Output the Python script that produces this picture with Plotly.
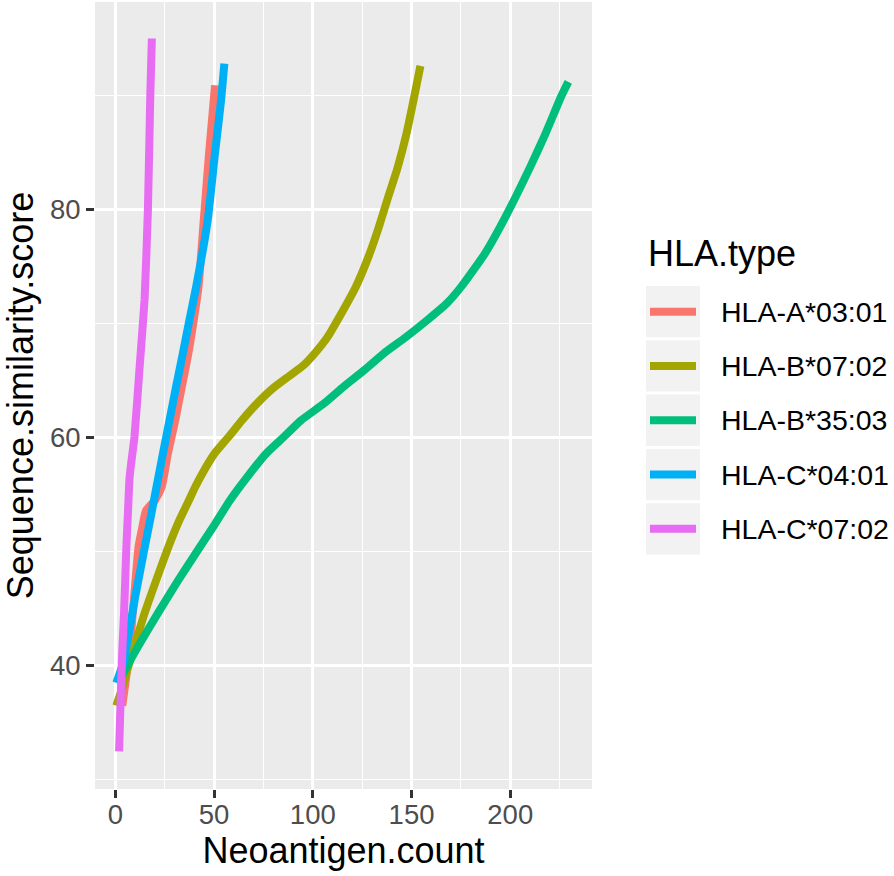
import plotly.graph_objects as go

# ---- data ----
hla_types = ["HLA-A*03:01", "HLA-B*07:02", "HLA-B*35:03", "HLA-C*04:01", "HLA-C*07:02"]
colors = ["#F8766D", "#A3A500", "#00BF7D", "#00B0F6", "#E76BF3"]

a0301_x = [3.5, 5.5, 7.5, 9.5, 11.8, 13.5, 15.5, 20, 23.5, 26.6, 30.3, 33.7, 37, 39.7, 42.1, 44.8, 47.5, 50.5]
a0301_y = [36.5, 39, 42, 46, 50.5, 52, 53.6, 54.5, 55.7, 58.6, 61.5, 64.5, 67.4, 70.3, 73.2, 79.1, 85, 90.9]

b0702_x = [0.5, 3, 6, 9.5, 14.8, 20.7, 26.6, 32, 36.7, 40.5, 44.5, 50.2, 57.5, 64, 71.2, 79.6, 88, 95,
           101, 107.4, 112.5, 121.7, 128.5, 133.5, 138, 143, 147.5, 151.5, 154.5]
b0702_y = [36.5, 37.8, 39.6, 41.6, 44.6, 47.5, 50.3, 52.6, 54.3, 55.7, 57.0, 58.6, 60.1, 61.5, 62.9, 64.3, 65.4, 66.3,
           67.4, 68.8, 70.3, 73.2, 76, 78.5, 81, 83.7, 86.7, 90, 92.6]

b3503_x = [3, 6, 11.5, 21.5, 31.5, 42, 50, 58, 67, 76.3, 85.5, 93.9, 105.7, 115.8, 125.9, 136,
           147, 157.9, 168, 175, 187, 198, 210, 217.7, 226, 229.4]
b3503_y = [39, 40, 41.7, 44.6, 47.4, 50.2, 52.3, 54.5, 56.6, 58.6, 60.1, 61.5, 63.0, 64.5, 65.9, 67.4,
           68.8, 70.3, 71.8, 73.2, 76.1, 79.5, 83.7, 86.6, 90, 91.2]

c0401_x = [0.5, 4, 7, 10, 13, 15, 18.2, 21.2, 24.2, 27.4, 30.8, 34.2, 37.5, 40.9, 46.8, 50.5, 53.5, 55.2]
c0401_y = [38.5, 40.3, 43, 46, 48.7, 50.5, 53.3, 56, 58.7, 61.5, 64.5, 67.4, 70.3, 73.2, 79.1, 85, 89.5, 92.8]

c0702_x = [1.9, 2.5, 3.0, 3.7, 4.4, 5.0, 5.6, 6.4, 7.2, 8.2, 9.7, 12.3, 14.8, 16.5, 17.7, 18.5]
c0702_y = [32.5, 36, 38.8, 42, 44.6, 47.5, 50.5, 53.5, 56.5, 58, 60.1, 66.2, 72.1, 80, 90, 95.0]

x_ticks = [0, 50, 100, 150, 200]
x_minor = [25, 75, 125, 175, 225]
y_ticks = [40, 60, 80]
y_minor = [30, 50, 70, 90]

series = [(a0301_x, a0301_y), (b0702_x, b0702_y), (b3503_x, b3503_y), (c0401_x, c0401_y), (c0702_x, c0702_y)]

FONT = "Liberation Sans, Arial, sans-serif"
W, H = 894, 876
PL, PR, PT, PB = 95, 592, 2, 789  # panel edges in pixels


def px_x(px):
    return (px - PL) / (PR - PL)


def px_y(py):
    return (PB - py) / (PB - PT)


fig = go.Figure()
for name, col, (xs, ys) in zip(hla_types, colors, series):
    fig.add_trace(go.Scatter(
        x=xs, y=ys, mode="lines", name=name, showlegend=False,
        line=dict(color=col, width=8, shape="spline", smoothing=0.5),
    ))

axis_common = dict(
    showline=False, zeroline=False, automargin=False,
    ticks="outside", ticklen=8, tickwidth=2.5, tickcolor="#333333",
    tickfont=dict(family=FONT, size=27.5, color="#4D4D4D"),
    gridcolor="#FFFFFF", gridwidth=2.5,
)

# ---- legend (ggplot style keys) ----
shapes = []
annotations = []
annotations.append(dict(
    text="HLA.type", xref="paper", yref="paper", x=px_x(646), y=px_y(253),
    xanchor="left", yanchor="middle", showarrow=False,
    font=dict(family=FONT, size=36, color="#000000"),
))
for i, (name, col) in enumerate(zip(hla_types, colors)):
    top = 286 + i * 54.3
    bot = top + 51.3
    mid = (top + bot) / 2
    shapes.append(dict(type="rect", xref="paper", yref="paper",
                       x0=px_x(646), x1=px_x(700), y0=px_y(bot), y1=px_y(top),
                       fillcolor="#F2F2F2", line=dict(width=0), layer="above"))
    shapes.append(dict(type="line", xref="paper", yref="paper",
                       x0=px_x(650), x1=px_x(696), y0=px_y(mid), y1=px_y(mid),
                       line=dict(color=col, width=8), layer="above"))
    annotations.append(dict(
        text=name, xref="paper", yref="paper", x=px_x(719), y=px_y(mid),
        xanchor="left", yanchor="middle", showarrow=False,
        font=dict(family=FONT, size=28.5, color="#000000"),
    ))

fig.update_layout(
    width=W, height=H,
    margin=dict(l=PL, r=W - PR, t=PT, b=H - PB),
    paper_bgcolor="#FFFFFF", plot_bgcolor="#EBEBEB",
    font=dict(family=FONT, color="#000000"),
    xaxis=dict(
        range=[-10.3, 241.4], tickvals=x_ticks,
        minor=dict(tickvals=x_minor, showgrid=True, gridcolor="#FFFFFF", gridwidth=1.2, ticks=""),
        ticklabelstandoff=-7,
        title=dict(text="Neoantigen.count", font=dict(family=FONT, size=36, color="#000000"), standoff=4),
        **axis_common,
    ),
    yaxis=dict(
        range=[29.2, 98.2], tickvals=y_ticks,
        minor=dict(tickvals=y_minor, showgrid=True, gridcolor="#FFFFFF", gridwidth=1.2, ticks=""),
        title=dict(text="Sequence.similarity.score", font=dict(family=FONT, size=36, color="#000000"), standoff=6),
        **axis_common,
    ),
    shapes=shapes,
    annotations=annotations,
    showlegend=False,
)

fig.write_html("out.html", config={"displayModeBar": False},
               post_script="document.body.style.margin='0px';")
